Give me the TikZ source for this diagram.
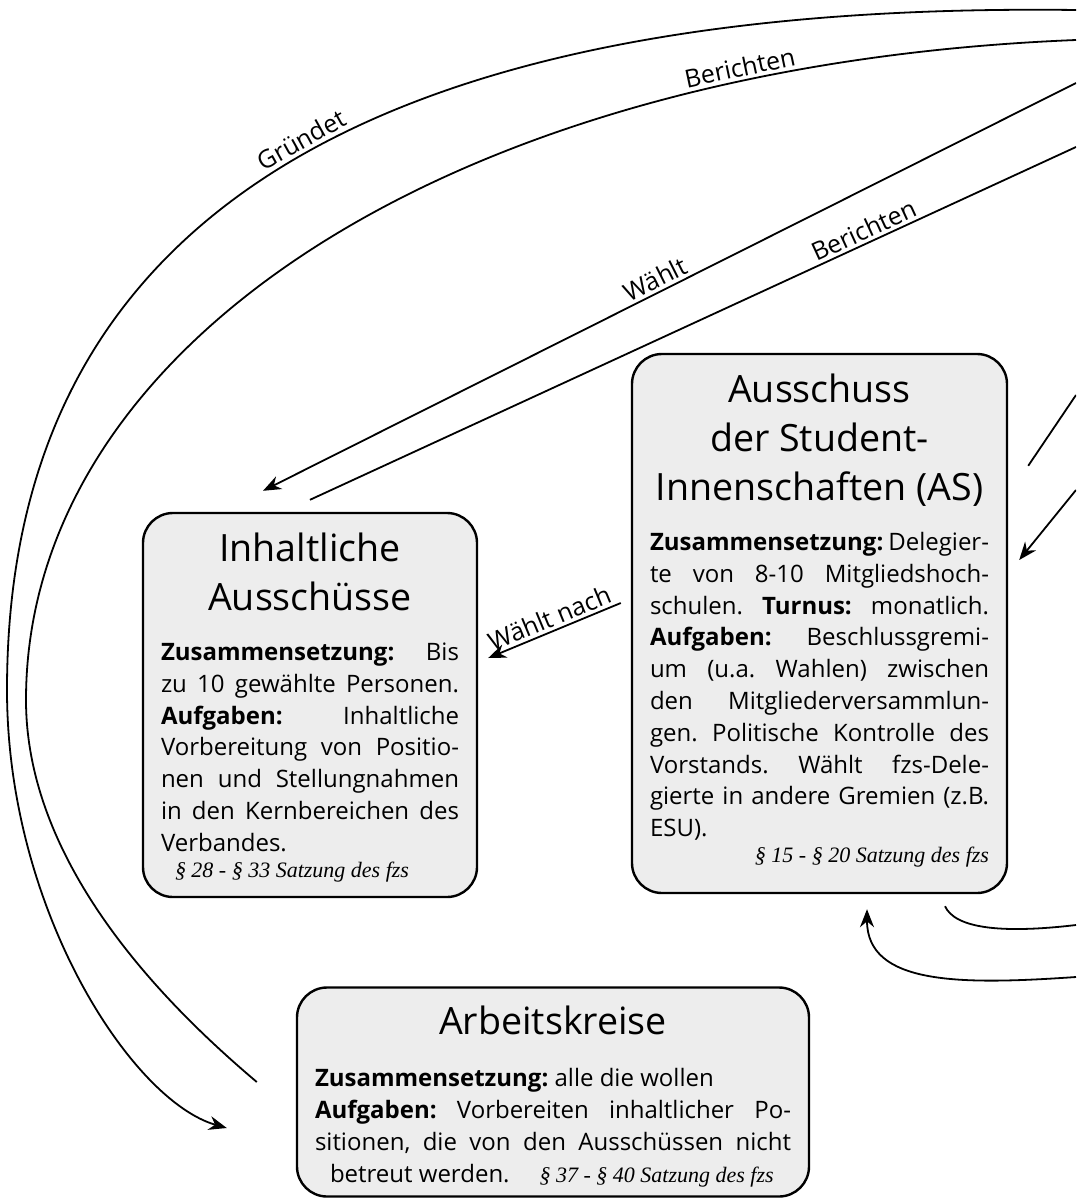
\documentclass[tikz,border=0pt]{standalone}
\usepackage{fontspec}
\setsansfont{Open Sans}
\newfontfamily\quellfont{Liberation Serif}
\usepackage{tikz}
\usetikzlibrary{arrows.meta,calc}

\newcommand{\titel}{\fontsize{18.8pt}{24.5pt}\selectfont}
\newcommand{\fliess}{\fontsize{12pt}{15.9pt}\selectfont\frenchspacing}
\newcommand{\quelle}{\quellfont\itshape\fontsize{11pt}{13pt}\selectfont}
\newcommand{\zeile}[1]{\makebox[\linewidth][s]{#1}\par}

\begin{document}
\begin{tikzpicture}[x=0.5pt, y=-0.5pt,
    gremium/.style={rectangle, draw, line width=1.2pt, fill=black!7, rounded corners=15pt, inner xsep=9pt, inner ysep=10pt, font=\sffamily},
    linie/.style={line width=0.9pt},
    pfeil/.style={linie, -{Stealth[length=9pt, width=7pt]}},
    beschriftung/.style={sloped, above, inner sep=1.5pt, font=\sffamily\fontsize{12.5pt}{15pt}\selectfont}
]

\useasboundingbox (0,0) rectangle (1076,1199);
\clip (0,0) rectangle (1076,1199);

% --- Gremien ---
\node[gremium, minimum width=167pt, minimum height=192pt] (ia) at (310,705) {\parbox[c][172pt][t]{149pt}{%
    {\titel\centering Inhaltliche\\Ausschüsse\par}
    \vspace{9.1pt}
    {\fliess
    \zeile{\textbf{Zusammensetzung:} Bis}
    \zeile{zu 10 gewählte Personen.}
    \zeile{\textbf{Aufgaben:} Inhaltliche}
    \zeile{Vorbereitung von Positio-}
    \zeile{nen und Stellungnahmen}
    \zeile{in den Kernbereichen des}
    Verbandes.\par}
    {\quelle\hspace*{7pt}§ 28 - § 33 Satzung des fzs\par}}};

\node[gremium, minimum width=187.5pt, minimum height=269.5pt] (as) at (819.5,623.5) {\parbox[c][249.5pt][t]{169.5pt}{%
    {\titel\centering Ausschuss\\der Student-\\Innenschaften (AS)\par}
    \vspace{9.1pt}
    {\fliess
    \zeile{\textbf{Zusammensetzung:} Delegier-}
    \zeile{te von 8-10 Mitgliedshoch-}
    \zeile{schulen. \textbf{Turnus:} monatlich.}
    \zeile{\textbf{Aufgaben:} Beschlussgremi-}
    \zeile{um (u.a. Wahlen) zwischen}
    \zeile{den Mitgliederversammlun-}
    \zeile{gen. Politische Kontrolle des}
    \zeile{Vorstands. Wählt fzs-Dele-}
    \zeile{gierte in andere Gremien (z.B.}
    ESU).\par}
    {\quelle\raggedleft § 15 - § 20 Satzung des fzs\par}}};

\node[gremium, inner ysep=9pt, minimum width=256pt, minimum height=104.5pt] (ak) at (553,1092) {\parbox[c][86.5pt][t]{238pt}{%
    {\titel\centering Arbeitskreise\par}
    \vspace{10.5pt}
    {\fliess
    \textbf{Zusammensetzung:} alle die wollen\par
    \zeile{\textbf{Aufgaben:} Vorbereiten inhaltlicher Po-}
    \zeile{sitionen, die von den Ausschüssen nicht}
    \hspace*{7.5pt}betreut werden.\hspace{15pt}{\quelle § 37 - § 40 Satzung des fzs}\par}}};

% --- Enden am rechten Rand ---
\coordinate (rGr) at (1076,10);
\coordinate (rBo) at (1076,40);
\coordinate (rWa) at (1076,83);
\coordinate (rBu) at (1076,147);
\coordinate (rR1) at (1076,395);
\coordinate (rR2) at (1076,490);
\coordinate (rC) at (1076,925);
\coordinate (rD) at (1076,977);

% --- Anschlusspunkte an den Gremien ---
\coordinate (akGr) at ($(ak.west)+(-69,36)$);
\coordinate (akBo) at ($(ak.west)+(-39,-10)$);
\coordinate (iaWa) at ($(ia.north)+(-47,-21)$);
\coordinate (iaBu) at ($(ia.north)+(0,-12)$);
\coordinate (asWn) at ($(as.west)+(-10,-20.5)$);
\coordinate (iaWn) at ($(ia.east)+(10,-47)$);
\coordinate (asR1) at ($(as.north east)+(20,113)$);
\coordinate (asR2) at ($(as.east)+(11,-63.5)$);
\coordinate (asC) at ($(as.south)+(125.5,12)$);
\coordinate (asD) at ($(as.south)+(47.5,15)$);

% --- Verbindungen ---
\draw[pfeil] (rGr) .. controls (280,0) and (7,280) .. (7,690) node[pos=0.44, beschriftung] {Gründet}
    .. controls (7,910) and (132,1101) .. (akGr);
\draw[linie] (akBo) .. controls (174,1012) and (26,870) .. (26,700)
    .. controls (26,345) and (450,65) .. (rBo) node[pos=0.81, beschriftung] {Berichten};
\draw[pfeil] (rWa) -- (iaWa) node[pos=0.51, beschriftung] {Wählt};
\draw[linie] (iaBu) -- (rBu) node[pos=0.73, beschriftung] {Berichten};
\draw[pfeil] (asWn) -- (iaWn) node[midway, beschriftung] {Wählt nach};

\draw[linie] (asR1) -- (rR1);
\draw[pfeil] (rR2) -- (asR2);
\draw[linie] (asC) .. controls (955,928) and (1000,934) .. (rC);
\draw[pfeil] (rD) .. controls (960,985) and (867,985) .. (asD);

\end{tikzpicture}
\end{document}
